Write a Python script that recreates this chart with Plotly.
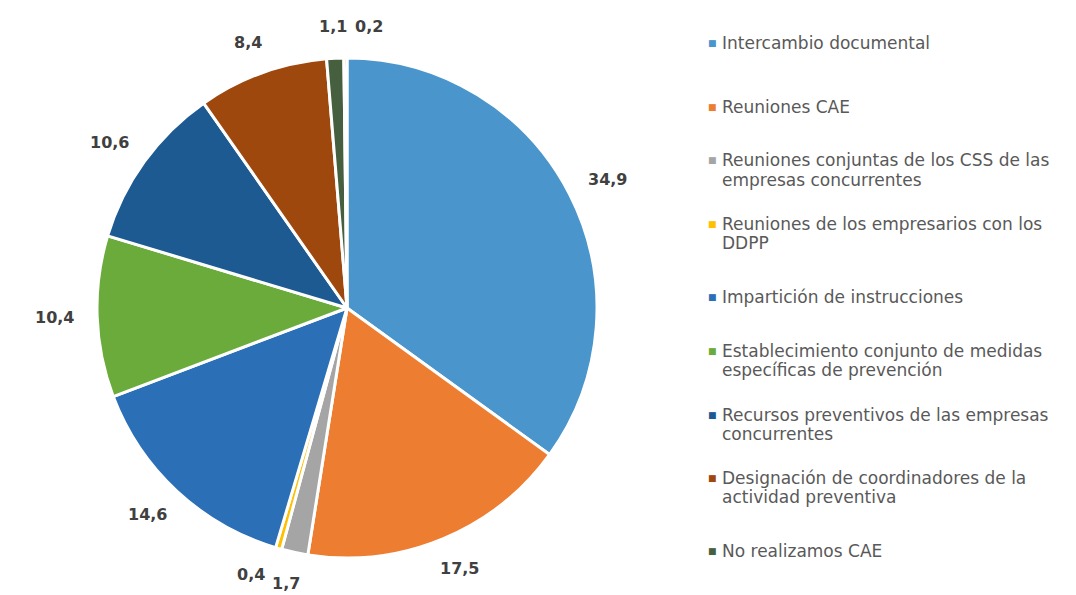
import math
import textwrap
import plotly.graph_objects as go

# Categories (legend order) and their shares in percent
categories = [
    "Intercambio documental",
    "Reuniones CAE",
    "Reuniones conjuntas de los CSS de las empresas concurrentes",
    "Reuniones de los empresarios con los DDPP",
    "Impartición de instrucciones",
    "Establecimiento conjunto de medidas específicas de prevención",
    "Recursos preventivos de las empresas concurrentes",
    "Designación de coordinadores de la actividad preventiva",
    "No realizamos CAE",
    "Otros",
]
values = [34.9, 17.5, 1.7, 0.4, 14.6, 10.4, 10.6, 8.4, 1.1, 0.2]
colors = ["#4A95CC", "#ED7D31", "#A5A5A5", "#FFC000", "#2B6FB6",
          "#6AAB3C", "#1D5A92", "#9E480E", "#46603F", "#997300"]
legend_count = 9  # entries listed in the side legend

W, H = 1076, 595
CX, CY, R = 347, 308, 250  # pie centre and radius in pixels

fig = go.Figure(go.Pie(
    labels=categories,
    values=values,
    sort=False,
    direction="clockwise",
    rotation=0,
    marker=dict(colors=colors, line=dict(color="white", width=3)),
    textinfo="none",
    hoverinfo="label+value",
    showlegend=False,
    domain=dict(x=[(CX - R) / W, (CX + R) / W],
                y=[(H - CY - R) / H, (H - CY + R) / H]),
))

# Value labels placed outside each slice, at the slice's mid angle
total = sum(values)
angles = []
cum = 0.0
for v in values:
    angles.append((cum + v / 2) / total * 360.0)
    cum += v
min_sep = 7.0
for i in range(1, len(angles)):
    if angles[i] - angles[i - 1] < min_sep:
        angles[i] = angles[i - 1] + min_sep

annotations = []
gap = 24
tw, th = 38, 16
for v, a in zip(values, angles):
    rad = math.radians(a)
    s, c = math.sin(rad), math.cos(rad)
    px = CX + (R + gap) * s + tw / 2 * s
    py = CY - (R + gap) * c - th / 2 * c
    annotations.append(dict(
        x=px / W, y=1 - py / H, xref="paper", yref="paper",
        text=f"{v:.1f}".replace(".", ","), showarrow=False,
        xanchor="center", yanchor="middle",
        font=dict(family="DejaVu Sans", size=16, color="#404040", weight="bold"),
    ))

# Side legend: coloured square plus wrapped category text
leg_x_marker, leg_x_text = 712, 720
leg_top, leg_bottom = 43, 551
step = (leg_bottom - leg_top) / (legend_count - 1)
line_h = 19
for i in range(legend_count):
    lines = textwrap.wrap(categories[i], width=37)
    centre = leg_top + i * step
    n = len(lines)
    for j, ln in enumerate(lines):
        ly = centre + (j - (n - 1) / 2) * line_h
        annotations.append(dict(
            x=leg_x_text / W, y=1 - ly / H, xref="paper", yref="paper",
            text=ln, showarrow=False, xanchor="left", yanchor="middle",
            font=dict(family="DejaVu Sans", size=17, color="#595959"),
        ))
        if j == 0:
            annotations.append(dict(
                x=leg_x_marker / W, y=1 - ly / H, xref="paper", yref="paper",
                text="■", showarrow=False, xanchor="center", yanchor="middle",
                font=dict(family="DejaVu Sans", size=9, color=colors[i]),
            ))

fig.update_layout(
    width=W, height=H,
    margin=dict(l=0, r=0, t=0, b=0),
    paper_bgcolor="white", plot_bgcolor="white",
    annotations=annotations,
)

fig.write_html("out.html")
